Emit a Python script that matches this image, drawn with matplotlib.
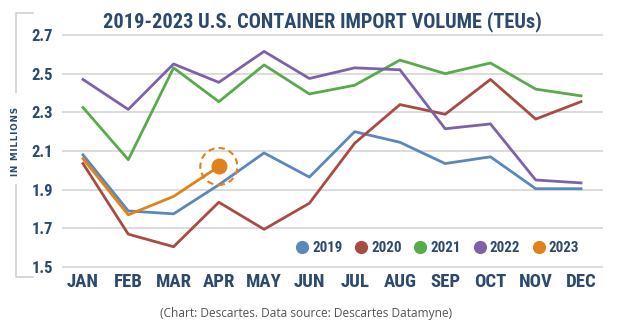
import numpy as np
import matplotlib
matplotlib.use("Agg")
import matplotlib.pyplot as plt
from matplotlib.patches import Ellipse
from matplotlib.lines import Line2D

months = ["JAN", "FEB", "MAR", "APR", "MAY", "JUN", "JUL", "AUG", "SEP", "OCT", "NOV", "DEC"]
y2019 = [2.08, 1.79, 1.775, 1.925, 2.09, 1.965, 2.20, 2.145, 2.035, 2.07, 1.905, 1.905]
y2020 = [2.035, 1.67, 1.605, 1.835, 1.695, 1.83, 2.14, 2.34, 2.29, 2.47, 2.265, 2.355]
y2021 = [2.325, 2.055, 2.53, 2.355, 2.545, 2.395, 2.44, 2.57, 2.50, 2.555, 2.42, 2.385]
y2022 = [2.47, 2.315, 2.55, 2.455, 2.615, 2.475, 2.53, 2.52, 2.215, 2.24, 1.95, 1.935]
y2023 = [2.06, 1.77, 1.865, 2.02]
years = ["2019", "2020", "2021", "2022", "2023"]
colors = ["#5b87bb", "#a84b43", "#58aa4b", "#7e62a8", "#e0811d"]
yticks = [1.5, 1.7, 1.9, 2.1, 2.3, 2.5, 2.7]

navy = "#2c4a6e"
cond = ["Roboto Condensed", "DejaVu Sans"]

W, H = 624, 326
fig = plt.figure(figsize=(W / 100, H / 100), dpi=100)
# axes box in pixels: x 62..603, y (2.72) 31.1 .. (1.48) 270.9
ax = fig.add_axes([62 / W, 1 - 270.9 / H, (603 - 62) / W, (270.9 - 31.1) / H])
ax.set_xlim(-0.464, 11.486)
ax.set_ylim(1.48, 2.72)

for s in ax.spines.values():
    s.set_visible(False)

ax.set_yticks(yticks)
ax.set_yticklabels([f"{v:.1f}" for v in yticks])
ax.set_xticks(range(12))
ax.set_xticklabels(months)
ax.tick_params(length=0)
ax.tick_params(axis="y", pad=6.5)
ax.tick_params(axis="x", pad=1.5)
for lab in ax.get_yticklabels():
    lab.set_fontfamily(cond)
    lab.set_fontweight("bold")
    lab.set_fontsize(12)
    lab.set_color(navy)
for lab in ax.get_xticklabels():
    lab.set_fontfamily(cond)
    lab.set_fontweight("bold")
    lab.set_fontsize(13.5)
    lab.set_color(navy)

ax.grid(axis="y", color="#dcdcdc", linewidth=1.4)
ax.set_axisbelow(True)

series = [y2019, y2020, y2021, y2022, y2023]
for vals, c in zip(series, colors):
    ax.plot(range(len(vals)), vals, color=c, linewidth=2.0, zorder=3)

# highlighted latest 2023 point with dashed ring
ax.plot([3], [y2023[-1]], "o", color=colors[4], markersize=10.5, zorder=4)
px_x = 541 / (11.486 + 0.464)     # pixels per month
px_y = 239.8 / (2.72 - 1.48)      # pixels per unit
r = 18.5
ax.add_patch(Ellipse((3, y2023[-1]), 2 * r / px_x, 2 * r / px_y, fill=False,
                     edgecolor=colors[4], linewidth=1.5, linestyle=(0, (3, 2)), zorder=4))

# legend
handles = [Line2D([], [], marker="o", linestyle="none", markersize=8.5,
                  markerfacecolor=c, markeredgecolor=c) for c in colors]
leg = ax.legend(handles, years, loc="center left",
                bbox_to_anchor=((296 - 62) / 541, (270.9 - 248) / 239.8),
                ncol=5, frameon=False, handletextpad=0.27, columnspacing=0.85,
                handlelength=0.8, borderpad=0, borderaxespad=0,
                prop={"family": cond, "weight": "bold", "size": 10.8})
for t in leg.get_texts():
    t.set_color(navy)

fig.text(322 / W, 1 - 27.3 / H, "2019-2023 U.S. CONTAINER IMPORT VOLUME (TEUs)",
         ha="center", va="baseline", fontsize=14.7, fontweight="bold", color=navy,
         fontfamily=cond)
fig.text(15.5 / W, 1 - 141 / H, "\u200a".join("IN MILLIONS"), rotation=90,
         ha="center", va="center", fontsize=6.3, fontweight="bold", color=navy)
fig.text(306 / W, 1 - 313 / H, "(Chart: Descartes. Data source: Descartes Datamyne)",
         ha="center", va="center", fontsize=8.6, color="#555555",
         fontfamily=["Open Sans", "DejaVu Sans"])

# bracket on the left
br = "#cfcfcf"
fig.add_artist(Line2D([33 / W, 16 / W, 16 / W], [1 - 13 / H, 1 - 13 / H, 1 - 92 / H],
                      color=br, linewidth=1.2))
fig.add_artist(Line2D([16 / W, 16 / W, 33 / W], [1 - 185 / H, 1 - 277 / H, 1 - 277 / H],
                      color=br, linewidth=1.2))

fig.savefig("out.png", dpi=100)
